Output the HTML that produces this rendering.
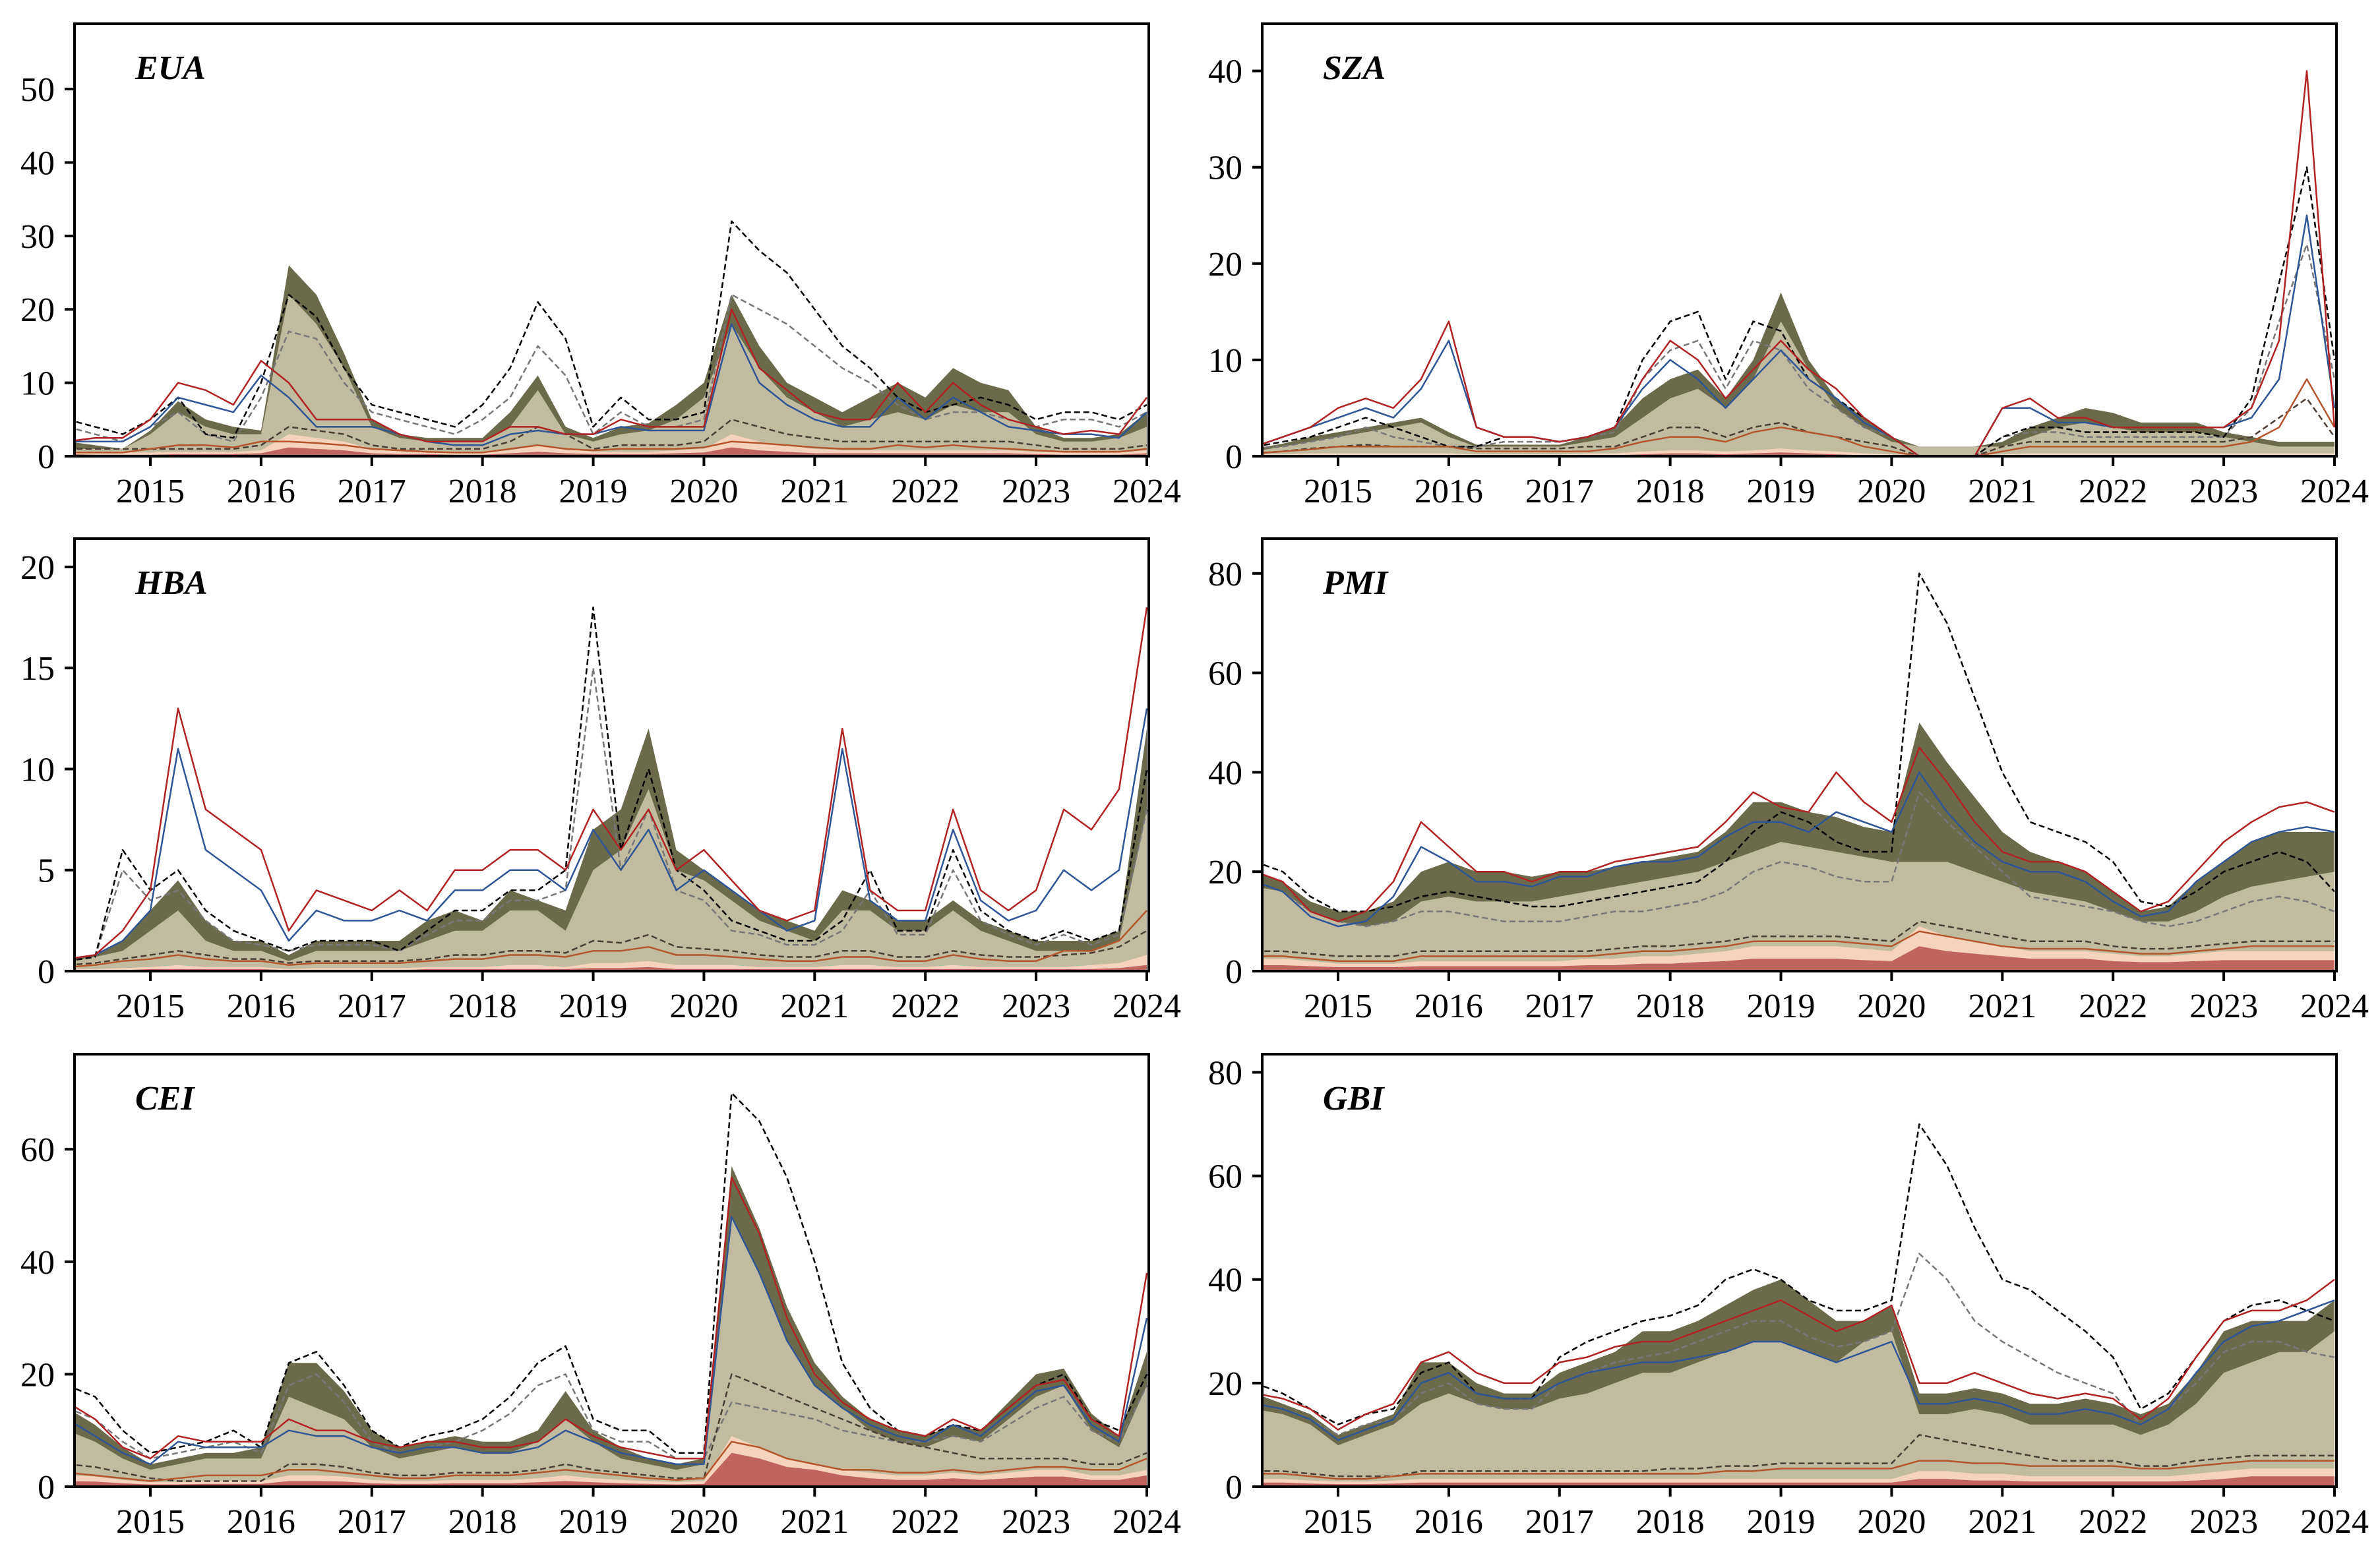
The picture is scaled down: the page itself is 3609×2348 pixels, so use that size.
<!DOCTYPE html>
<html><head><meta charset="utf-8">
<style>
html,body{margin:0;padding:0;background:#fff;}
svg{display:block;}
text{font-family:"Liberation Serif",serif;fill:#000;}
</style></head>
<body>
<svg id="fig" width="3609" height="2348" viewBox="0 0 3609 2348" xmlns="http://www.w3.org/2000/svg"></svg>
<script>
// quarterly dates
const dates=[2014.25,2014.5,2014.75,2015.0,2015.25,2015.5,2015.75,2016.0,2016.25,2016.5,2016.75,2017.0,2017.25,2017.5,2017.75,2018.0,2018.25,2018.5,2018.75,2019.0,2019.25,2019.5,2019.75,2020.0,2020.25,2020.5,2020.75,2021.0,2021.25,2021.5,2021.75,2022.0,2022.25,2022.5,2022.75,2023.0,2023.25,2023.5,2023.75,2024.0];
const xTicks=[2015,2016,2017,2018,2019,2020,2021,2022,2023,2024];

// EUA
const euaTan=[1,1,1,3,6,4,3,3,22,18,12,4,2.5,2,2,2,4,9,3,2,3,3.5,5,8,18,12,8,6,4,5,6,5,7,6,6,3,2,2,2.5,4];
const euaOlive=[2,1.5,1,3.5,7.5,5,4,3.5,26,22,14,5,3,2.5,2.5,2.5,6,11,4,2.5,4,4.5,7,10,22,15,10,8,6,8,10,8,12,10,9,4,2.5,2.5,3,6];
const euaRed=[2,2.5,2.5,5,10,9,7,13,10,5,5,5,3,2,2,2,4,4,3,3,5,4,4,4,20,12,9,6,5,5,10,6,10,7,5,4,3,3.5,3,8];
const euaBlue=[2,2,2,4,8,7,6,11,8,4,4,4,3,2,1.5,1.5,3,3.5,3,3,4,3.5,3.5,3.5,18,10,7,5,4,4,8,5,8,6,4,3.5,3,3,2.5,6];
const euaBlack=[5,4,3,5,8,3,2.5,10,22,19,12,7,6,5,4,7,12,21,16,4,8,5,5,6,32,28,25,20,15,12,8,6,7,8,7,5,6,6,5,7];
const euaGray=[4,3,2,4,6,3,2,8,17,16,10,6,5,4,3,5,8,15,11,3,6,4,4,5,22,20,18,15,12,10,7,5,6,6,5,4,5,5,4,6];
const euaPeach=[0.6,0.5,0.5,0.5,0.6,0.6,0.6,0.8,3,2.5,2,1,0.8,0.6,0.5,0.5,0.8,1.5,1,0.6,0.6,0.6,0.8,1,3,2,1.5,1,0.8,0.8,0.8,0.8,0.8,0.8,0.8,0.6,0.5,0.5,0.5,0.8];
const euaSalmon=[0.3,0.2,0.2,0.2,0.3,0.3,0.3,0.4,1.2,1,0.8,0.4,0.3,0.3,0.2,0.2,0.4,0.6,0.4,0.3,0.3,0.3,0.4,0.5,1.2,0.8,0.6,0.4,0.4,0.4,0.4,0.4,0.4,0.4,0.4,0.3,0.2,0.2,0.2,0.4];
const euaBrown=[0.5,0.5,0.5,1,1.5,1.5,1.2,2,2,1.8,1.5,1,0.8,0.6,0.5,0.5,1,1.5,1,0.8,1,1,1,1.2,2,1.8,1.5,1.2,1,1,1.5,1.2,1.5,1.2,1,0.8,0.6,0.6,0.6,1];
const euaDark=[1,1,1,1,1,1,1,1.5,4,3.5,3,1.5,1,1,1,1,2,4,3,1,1.5,1.5,1.5,2,5,4,3,2.5,2,2,2,2,2,2,2,1.5,1,1,1,1.5];

// SZA
const szaTan=[0.5,1,1.5,2,2.5,3,3.5,2,1,1,1,1,1.5,2,4,6,7,5,8,14,9,5,3,1.5,1,1,1,1,2,3,3.5,3,2.5,2.5,2.5,2,1.5,1,1,1];
const szaOlive=[0.8,1.3,2,2.5,3,3.5,4,2.5,1.2,1.2,1.2,1.2,2,3,6,8,9,6,10,17,10,6,4,2,1,1,1,1.5,3,4,5,4.5,3.5,3.5,3.5,2.5,2,1.5,1.5,1.5];
const szaRed=[1,2,3,5,6,5,8,14,3,2,2,1.5,2,3,8,12,10,6,9,12,9,7,4,2,0,0,0,5,6,4,4,3,3,3,3,3,5,12,40,3];
const szaBlue=[1,2,3,4,5,4,7,12,3,2,2,1.5,2,3,7,10,8,5,8,11,8,6,3.5,2,0,0,0,5,5,3.5,3.5,3,3,3,3,3,4,8,25,5];
const szaBlack=[1,1.5,2,3,4,3,2,1,1,2,2,1.5,2,3,10,14,15,8,14,13,8,6,4,2,0,0,0,2,3,3,2.5,2.5,2.5,2.5,2.5,2,6,18,30,10];
const szaGray=[0.8,1,1.5,2,3,2,1.5,1,1,1.5,1.5,1.5,2,2.5,8,11,12,7,12,11,7,5,3,2,0,0,0,2,2.5,2.5,2,2,2,2,2,2,5,14,22,8];
const szaPeach=[0.2,0.2,0.3,0.3,0.3,0.3,0.3,0.3,0.2,0.2,0.2,0.2,0.3,0.3,0.5,0.6,0.6,0.5,0.6,0.8,0.6,0.5,0.3,0.2,0.1,0.1,0.1,0.2,0.3,0.3,0.3,0.3,0.3,0.3,0.3,0.3,0.3,0.3,0.3,0.3];
const szaSalmon=[0.1,0.1,0.1,0.1,0.1,0.1,0.1,0.1,0.1,0.1,0.1,0.1,0.1,0.1,0.2,0.3,0.3,0.2,0.3,0.4,0.3,0.2,0.1,0.1,0.05,0.05,0.05,0.1,0.1,0.1,0.1,0.1,0.1,0.1,0.1,0.1,0.1,0.1,0.1,0.1];
const szaBrown=[0.3,0.5,0.7,1,1,1,1,1,0.5,0.5,0.5,0.5,0.5,0.8,1.5,2,2,1.5,2.5,3,2.5,2,1,0.5,0,0,0,0.5,1,1,1,1,1,1,1,1,1.5,3,8,3];
const szaDark=[0.3,0.5,0.8,1,1.2,1,1,1,0.8,0.8,0.8,0.8,1,1,2,3,3,2,3,3.5,2.5,2,1.5,1,0,0,0,1,1.5,1.5,1.5,1.5,1.5,1.5,1.5,1.5,2,4,6,2];

// HBA
const hbaTan=[0.5,0.7,1,2,3,1.5,1,1,0.5,1,1,1,1,1.5,2,2,3,3,2,5,6,9,5,4.5,3.5,2.5,2,1.5,3,3,2,2,3,2,1.5,1,1,1,1.5,8];
const hbaOlive=[0.6,0.8,1.5,3,4.5,2.5,1.5,1.5,0.8,1.5,1.5,1.5,1.5,2.5,3,2.5,4,3.5,3,7,8,12,6,5,4,3,2.5,2,4,3.5,2.5,2.5,3.5,2.5,2,1.5,1.5,1.5,2,12];
const hbaRed=[0.6,0.8,2,4,13,8,7,6,2,4,3.5,3,4,3,5,5,6,6,5,8,6,8,5,6,4.5,3,2.5,3,12,4,3,3,8,4,3,4,8,7,9,18];
const hbaBlue=[0.6,0.8,1.5,3,11,6,5,4,1.5,3,2.5,2.5,3,2.5,4,4,5,5,4,7,5,7,4,5,4,3,2,2.5,11,3.5,2.5,2.5,7,3.5,2.5,3,5,4,5,13];
const hbaBlack=[0.5,0.7,6,4,5,3,2,1.5,1,1.5,1.5,1.5,1,2,3,3,4,4,5,18,6,10,5,4,2.5,2,1.5,1.5,2.5,5,2,2,6,3,2,1.5,2,1.5,2,10];
const hbaGray=[0.5,0.7,5,3.5,4,2.5,1.5,1.3,1,1.3,1.3,1.3,1,1.8,2.5,2.5,3.5,3.5,4,15,5,8,4,3.5,2,1.8,1.3,1.3,2,4,1.8,1.8,5,2.5,1.8,1.3,1.8,1.3,1.8,8];
const hbaPeach=[0.1,0.1,0.15,0.2,0.3,0.2,0.2,0.2,0.1,0.15,0.15,0.15,0.15,0.2,0.2,0.2,0.3,0.3,0.2,0.4,0.4,0.5,0.3,0.3,0.3,0.2,0.2,0.2,0.3,0.3,0.2,0.2,0.3,0.2,0.2,0.2,0.2,0.3,0.4,0.8];
const hbaSalmon=[0.05,0.05,0.05,0.1,0.1,0.1,0.1,0.1,0.05,0.05,0.05,0.05,0.05,0.1,0.1,0.1,0.1,0.1,0.1,0.15,0.15,0.2,0.1,0.1,0.1,0.1,0.1,0.1,0.1,0.1,0.1,0.1,0.1,0.1,0.1,0.1,0.1,0.1,0.15,0.3];
const hbaBrown=[0.2,0.3,0.5,0.6,0.8,0.6,0.5,0.5,0.3,0.4,0.4,0.4,0.4,0.5,0.6,0.6,0.8,0.8,0.7,1,1,1.2,0.8,0.8,0.7,0.6,0.5,0.5,0.7,0.7,0.5,0.5,0.8,0.6,0.5,0.5,1,1,1.5,3];
const hbaDark=[0.3,0.4,0.6,0.8,1,0.8,0.6,0.6,0.4,0.5,0.5,0.5,0.5,0.6,0.8,0.8,1,1,0.9,1.5,1.4,1.8,1.2,1.1,1,0.8,0.7,0.7,1,1,0.7,0.7,1,0.8,0.7,0.7,0.8,0.9,1.2,2];

// PMI
const pmiTan=[17,16,12,10,9,10,14,15,14,14,14,15,16,17,18,19,20,22,24,26,25,24,23,22,22,22,20,18,16,15,14,12,10,10,12,15,17,18,19,20];
const pmiOlive=[20,18,14,12,12,14,20,22,20,20,19,20,20,21,22,23,24,28,34,34,32,31,29,28,50,42,35,28,24,22,20,16,12,13,18,22,26,28,28,28];
const pmiRed=[20,18,12,10,12,18,30,25,20,20,18,20,20,22,23,24,25,30,36,33,32,40,34,30,45,38,30,24,22,22,20,16,12,14,20,26,30,33,34,32];
const pmiBlue=[18,16,11,9,10,15,25,22,18,18,17,19,19,21,22,22,23,27,30,30,28,32,30,28,40,32,26,22,20,20,18,14,11,12,18,22,26,28,29,28];
const pmiBlack=[22,20,15,12,12,13,15,16,15,14,13,13,14,15,16,17,18,22,28,32,30,26,24,24,80,70,55,40,30,28,26,22,14,13,16,20,22,24,22,16];
const pmiGray=[18,16,12,10,9,10,12,12,11,10,10,10,11,12,12,13,14,16,20,22,21,19,18,18,36,30,25,20,15,14,13,12,10,9,10,12,14,15,14,12];
const pmiPeach=[2.5,2.5,2,1.5,1.5,1.5,2,2,2,2,2,2,2.5,2.5,3,3,3.5,4,5,5,5,5,4.5,4,9,7,6,5,4,4,4,3.5,3,3,3.5,4,4,4,4,4];
const pmiSalmon=[1.2,1.2,1,0.8,0.8,0.8,1,1,1,1,1,1,1.2,1.2,1.5,1.5,1.8,2,2.5,2.5,2.5,2.5,2.2,2,5,4,3.5,3,2.5,2.5,2.5,2,1.8,1.8,2,2.2,2.2,2.2,2.2,2.2];
const pmiBrown=[3,3,2.5,2,2,2,3,3,3,3,3,3,3,3.5,4,4,4.5,5,6,6,6,6,5.5,5,8,7,6,5,4.5,4.5,4.5,4,3.5,3.5,4,4.5,5,5,5,5];
const pmiDark=[4,4,3.5,3,3,3,4,4,4,4,4,4,4,4.5,5,5,5.5,6,7,7,7,7,6.5,6,10,9,8,7,6,6,6,5,4.5,4.5,5,5.5,6,6,6,6];

// CEI
const ceiTan=[10,8,5,3,4,5,5,5,16,14,12,7,5,6,7,6,6,8,12,8,5,4,3,4,48,38,26,18,14,10,8,7,9,8,12,16,18,10,7,18];
const ceiOlive=[14,11,7,4,5,6,6,7,22,22,17,10,7,8,9,8,8,10,17,10,7,5,4,5,57,46,32,22,16,12,10,9,11,10,15,20,21,13,9,24];
const ceiRed=[15,12,7,5,9,8,8,8,12,10,10,8,7,8,8,7,7,8,12,9,7,6,5,5,55,45,30,20,15,12,10,9,12,10,14,18,19,12,9,38];
const ceiBlue=[12,9,6,4,8,7,7,7,10,9,9,7,6,7,7,6,6,7,10,8,6,5,4,4,48,38,26,18,14,11,9,8,11,9,13,17,18,11,8,30];
const ceiBlack=[18,16,10,6,7,8,10,7,22,24,18,10,7,9,10,12,16,22,25,12,10,10,6,6,70,65,55,40,22,14,10,9,11,10,14,18,20,12,10,20];
const ceiGray=[14,12,8,5,6,7,8,6,18,20,15,8,6,7,8,10,13,18,20,10,8,8,5,5,15,14,13,12,10,9,8,8,9,8,11,14,16,10,8,18];
const ceiPeach=[2,1.8,1.2,0.8,0.8,1,1,1,2,2,1.8,1.2,1,1,1.2,1.2,1.2,1.5,2,1.5,1.2,1,0.8,1,9,7,5,4,3,2.5,2,2,2.5,2,2.5,3,3,2,2,3];
const ceiSalmon=[1,0.9,0.6,0.4,0.4,0.5,0.5,0.5,1,1,0.9,0.6,0.5,0.5,0.6,0.6,0.6,0.8,1,0.8,0.6,0.5,0.4,0.5,6,5,3.5,3,2,1.5,1.2,1.2,1.5,1.2,1.5,1.8,1.8,1.2,1.2,2];
const ceiBrown=[2.5,2,1.5,1,1.5,2,2,2,3,3,2.5,2,1.5,1.5,2,2,2,2.5,3,2.5,2,1.5,1.2,1.5,8,7,5,4,3,3,2.5,2.5,3,2.5,3,3.5,3.5,3,3,5];
const ceiDark=[4,3.5,2.5,1.5,1,1,1,1,4,4,3.5,2.5,2,2,2.5,2.5,2.5,3,4,3,2.5,2,1.5,1.5,20,18,16,14,12,10,8,7,6,5,5,5,5,4,4,6];

// GBI
const gbiTan=[15,14,12,8,10,12,16,18,16,15,15,17,18,20,22,22,24,26,28,28,26,24,28,30,14,14,15,14,12,12,12,12,10,12,16,22,24,26,26,30];
const gbiOlive=[18,16,14,10,12,14,24,24,20,18,18,22,24,26,30,30,32,35,38,40,36,32,32,35,18,18,19,18,16,16,17,16,14,16,22,30,32,32,32,36];
const gbiRed=[18,17,15,11,14,16,24,26,22,20,20,24,25,27,28,28,30,32,34,36,33,30,32,35,20,20,22,20,18,17,18,17,13,17,25,32,34,34,36,40];
const gbiBlue=[16,15,13,9,11,13,20,22,18,17,17,20,22,23,24,24,25,26,28,28,26,24,26,28,16,16,17,16,14,14,15,14,12,15,22,28,31,32,34,36];
const gbiBlack=[20,18,15,12,14,15,22,24,18,17,17,25,28,30,32,33,35,40,42,40,36,34,34,36,70,62,50,40,38,34,30,25,15,18,25,32,35,36,34,32];
const gbiGray=[16,15,13,10,12,13,18,20,16,15,15,20,22,24,25,26,28,30,32,32,29,27,28,30,45,40,32,28,25,22,20,18,12,15,20,26,28,28,26,25];
const gbiPeach=[1.5,1.5,1.2,1,1,1.2,1.5,1.5,1.5,1.5,1.5,1.5,1.5,1.5,1.5,1.5,1.5,1.5,1.5,1.5,1.5,1.5,1.5,1.5,3,3,2.5,2.5,2,2,2,2,2,2,2.5,3,3.5,3.5,3.5,3.5];
const gbiSalmon=[0.8,0.8,0.6,0.5,0.5,0.6,0.8,0.8,0.8,0.8,0.8,0.8,0.8,0.8,0.8,0.8,0.8,0.8,0.8,0.8,0.8,0.8,0.8,0.8,1.5,1.5,1.2,1.2,1,1,1,1,1,1,1.2,1.5,2,2,2,2];
const gbiBrown=[2.5,2.5,2,1.5,1.5,2,2.5,2.5,2.5,2.5,2.5,2.5,2.5,2.5,2.5,2.5,2.5,3,3,3.5,3.5,3.5,3.5,3.5,5,5,4.5,4.5,4,4,4,4,3.5,3.5,4,4.5,5,5,5,5];
const gbiDark=[3,3,2.5,2,2,2,3,3,3,3,3,3,3,3,3,3.5,3.5,4,4,4.5,4.5,4.5,4.5,4.5,10,9,8,7,6,5,5,5,4,4,5,5.5,6,6,6,6];

const panels=[
 {name:'EUA',L:113,T:36,ymax:58.9,ticks:[0,10,20,30,40,50],tan:euaTan,olive:euaOlive,red:euaRed,blue:euaBlue,black:euaBlack,gray:euaGray,peach:euaPeach,salmon:euaSalmon,brown:euaBrown,dark:euaDark},
 {name:'SZA',L:1914,T:36,ymax:44.9,ticks:[0,10,20,30,40],tan:szaTan,olive:szaOlive,red:szaRed,blue:szaBlue,black:szaBlack,gray:szaGray,peach:szaPeach,salmon:szaSalmon,brown:szaBrown,dark:szaDark},
 {name:'HBA',L:113,T:817,ymax:21.4,ticks:[0,5,10,15,20],tan:hbaTan,olive:hbaOlive,red:hbaRed,blue:hbaBlue,black:hbaBlack,gray:hbaGray,peach:hbaPeach,salmon:hbaSalmon,brown:hbaBrown,dark:hbaDark},
 {name:'PMI',L:1914,T:817,ymax:87,ticks:[0,20,40,60,80],tan:pmiTan,olive:pmiOlive,red:pmiRed,blue:pmiBlue,black:pmiBlack,gray:pmiGray,peach:pmiPeach,salmon:pmiSalmon,brown:pmiBrown,dark:pmiDark},
 {name:'CEI',L:113,T:1599,ymax:76.9,ticks:[0,20,40,60],tan:ceiTan,olive:ceiOlive,red:ceiRed,blue:ceiBlue,black:ceiBlack,gray:ceiGray,peach:ceiPeach,salmon:ceiSalmon,brown:ceiBrown,dark:ceiDark},
 {name:'GBI',L:1914,T:1599,ymax:83.5,ticks:[0,20,40,60,80],tan:gbiTan,olive:gbiOlive,red:gbiRed,blue:gbiBlue,black:gbiBlack,gray:gbiGray,peach:gbiPeach,salmon:gbiSalmon,brown:gbiBrown,dark:gbiDark}
];

const NS='http://www.w3.org/2000/svg';
const svg=document.getElementById('fig');
const W=1629,H=656,X0=2014.315,X1=2024.018;
function mk(tag,attrs,parent){const e=document.createElementNS(NS,tag);for(const k in attrs)e.setAttribute(k,attrs[k]);parent.appendChild(e);return e;}

panels.forEach((p,pi)=>{
  const g=mk('g',{},svg);
  
  
  const xs=t=>p.L+(t-X0)/(X1-X0)*W;
  const ys=v=>p.T+H-v/p.ymax*H;
  const clip=mk('clipPath',{id:'c'+pi},g);
  mk('rect',{x:p.L,y:p.T,width:W,height:H},clip);
  const plot=mk('g',{'clip-path':'url(#c'+pi+')'},g);
  function area(arr,fill,nm){
    let d='M'+xs(dates[0])+','+ys(0);
    arr.forEach((v,i)=>{d+='L'+xs(dates[i]).toFixed(1)+','+ys(v).toFixed(1);});
    d+='L'+xs(dates[dates.length-1])+','+ys(0)+'Z';
    const e=mk('path',{d:d,fill:fill},plot);
    
    
  }
  function line(arr,col,w,dash,nm){
    let d='';
    arr.forEach((v,i)=>{d+=(i?'L':'M')+xs(dates[i]).toFixed(1)+','+ys(v).toFixed(1);});
    const e=mk('path',{d:d,fill:'none',stroke:col,'stroke-width':w,'stroke-dasharray':dash||'none','stroke-linejoin':'round'},plot);
    
    
  }
  area(p.olive,'#6b6b4c','olive-area');
  area(p.tan,'#c1bc9f','tan-area');
  area(p.peach,'#f5d3bc','peach-area');
  area(p.salmon,'#c0645e','salmon-area');
  line(p.gray,'#777777',2.5,'9,5','gray-dashed-line');
  line(p.black,'#000000',2.5,'9,5','black-dashed-line');
  line(p.dark,'#4b3d34',2.5,'9,5','dark-dashed-line');
  line(p.brown,'#b5552b',2.5,'','brown-line');
  line(p.blue,'#2e5596',2.5,'','blue-line');
  line(p.red,'#b22222',2.5,'','red-line');
  // frame
  const fr=mk('rect',{x:p.L,y:p.T,width:W,height:H,fill:'none',stroke:'#000','stroke-width':4},g);
  
  
  // y ticks
  p.ticks.forEach(v=>{
    const y=ys(v);
    mk('line',{x1:p.L-15,x2:p.L,y1:y,y2:y,stroke:'#000','stroke-width':4},g);
    const t=mk('text',{x:p.L-30,y:y+18,'text-anchor':'end','font-size':52},g);
    
    
    t.textContent=v;
  });
  xTicks.forEach(yr=>{
    const x=xs(yr);
    mk('line',{x1:x,x2:x,y1:p.T+H,y2:p.T+H+15,stroke:'#000','stroke-width':4},g);
    const t=mk('text',{x:x,y:p.T+H+70,'text-anchor':'middle','font-size':52},g);
    
    
    t.textContent=yr;
  });
  const ti=mk('text',{x:p.L+92,y:p.T+84,'font-size':52,'font-style':'italic','font-weight':'bold'},g);
  
  
  ti.textContent=p.name;
});
</script>
</body></html>
